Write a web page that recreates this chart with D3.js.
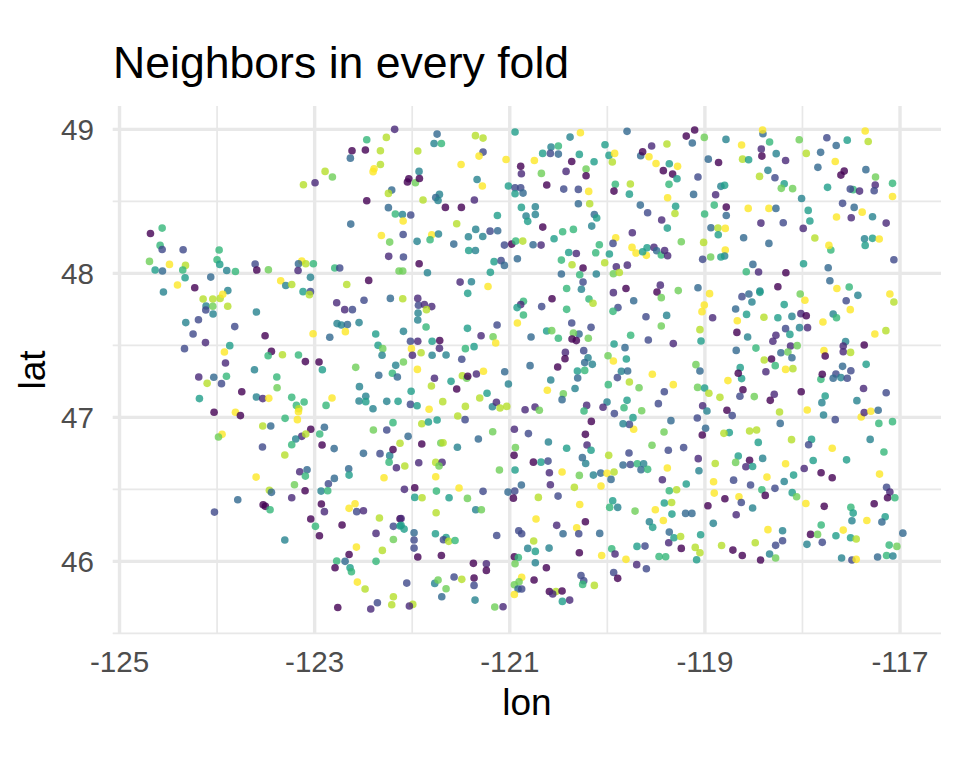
<!DOCTYPE html>
<html>
<head>
<meta charset="utf-8">
<script src="https://cdn.jsdelivr.net/npm/d3@7"></script>
<style>
  html, body { margin: 0; background: #fff; }
  svg { display: block; }
  text { font-family: "Liberation Sans", Arial, sans-serif; }
</style>
</head>
<body>
<svg width="960" height="768"></svg>
<script>
// each row: lon, lat, fold (0-9)
const pointsNW = [[-122.18,49,1],[-122.265,48.944,8],[-122.466,48.928,6],[-122.617,48.851,0],[-122.48,48.856,0],[-122.326,48.851,8],[-122.634,48.8,3],[-122.326,48.756,8],[-122.391,48.726,9],[-122.401,48.706,9],[-122.893,48.708,8],[-122.818,48.669,7],[-123.115,48.615,8],[-122.996,48.629,1],[-122.21,48.578,3],[-122.244,48.555,8],[-122.466,48.504,0],[-122.244,48.456,3],[-122.173,48.412,6],[-122.63,48.342,3],[-122.316,48.263,9],[-122.231,48.217,7],[-122.241,48.118,1],[-122.135,48.016,7],[-124.563,48.314,6],[-124.683,48.277,0],[-124.584,48.194,6],[-124.563,48.166,2],[-124.348,48.164,2],[-124.693,48.083,7],[-124.488,48.062,9],[-124.324,48.055,8],[-124.635,48.023,5],[-124.56,48.016,3],[-124.352,48.023,6],[-124.328,47.969,5],[-124.406,47.919,9],[-124.229,47.9,0],[-124.55,47.87,4],[-123.979,48.162,6],[-124,48.094,6],[-123.973,48.062,5],[-124.065,47.974,3],[-123.901,48.02,4],[-123.812,48.013,6],[-123.89,47.88,4],[-123.61,48.064,2],[-123.593,48.023,0],[-123.474,48.025,7],[-123.132,48.085,9],[-123.166,48.067,3],[-123.091,48.067,8],[-123.013,48.067,6],[-123.17,48.02,1],[-123.043,47.972,4],[-123.348,47.949,9],[-123.296,47.916,4],[-123.235,47.923,8],[-123.119,47.873,5],[-123.043,47.873,2],[-122.794,48.037,6],[-122.743,48.037,2],[-122.671,47.923,8],[-122.446,47.951,0],[-123.054,47.852,8]];
const pointsW = [[-124.143,47.822,8],[-124.044,47.822,8],[-123.969,47.826,8],[-123.942,47.854,9],[-124.113,47.773,4],[-124.044,47.771,7],[-123.891,47.771,8],[-124.116,47.745,2],[-124.041,47.718,4],[-123.597,47.732,4],[-124.321,47.658,4],[-124.191,47.678,2],[-123.819,47.63,2],[-124.246,47.579,2],[-124.119,47.519,1],[-124.334,47.477,2],[-123.508,47.567,0],[-123.87,47.498,5],[-123.925,47.454,9],[-123.443,47.458,0],[-123.477,47.428,6],[-123.33,47.435,8],[-123.166,47.433,6],[-123.914,47.377,1],[-123.095,47.387,0],[-122.955,47.384,0],[-122.921,47.331,5],[-123.617,47.331,4],[-123.388,47.28,6],[-124.188,47.28,1],[-124.034,47.278,3],[-123.904,47.285,6],[-124.102,47.236,8],[-123.955,47.234,2],[-123.385,47.206,7],[-123.747,47.178,0],[-124.181,47.13,5],[-123.597,47.141,4],[-123.532,47.13,1],[-123.47,47.132,9],[-123.235,47.139,6],[-123.187,47.083,6],[-123.108,47.107,6],[-123.163,47.06,8],[-123.166,47.039,9],[-123.177,46.984,9],[-123.303,46.993,6],[-122.822,47.134,9],[-122.883,47.083,6],[-122.579,47.347,7],[-122.774,47.796,1],[-122.692,47.748,1],[-122.613,47.748,2],[-122.494,47.813,2],[-122.224,47.826,3],[-122.77,47.651,4],[-122.726,47.641,4],[-122.664,47.644,3],[-122.545,47.658,4],[-122.685,47.595,9],[-122.845,47.556,3],[-123.016,47.581,9],[-122.374,47.579,5],[-122.35,47.5,5],[-122.302,47.477,7],[-122.309,47.431,4],[-122.169,47.361,4],[-122.203,47.306,6],[-122.152,47.28,3],[-122.343,47.292,3],[-122.541,47.213,4],[-122.476,47.146,4],[-122.545,47.113,4],[-122.476,47.109,5],[-122.261,47.111,4],[-122.402,47.06,4],[-122.145,47.111,5],[-124.031,47.035,0],[-123.812,47.035,9],[-123.761,47.012,0],[-123.532,46.94,8],[-123.45,46.94,3],[-122.197,46.963,6],[-122.398,46.912,7],[-122.261,46.912,2],[-122.9,46.931,3],[-123.04,46.917,0],[-123.132,46.868,1],[-123.091,46.884,8],[-122.948,46.884,6],[-123.194,46.85,4],[-123.235,46.81,6],[-122.924,46.808,0],[-122.8,46.783,3],[-123.949,46.882,9],[-123.986,46.864,7],[-123.535,46.794,2],[-123.306,46.739,8],[-122.5,46.75,3],[-122.33,46.748,2],[-122.231,46.734,4],[-122.197,46.776,0],[-122.125,46.82,8]];
const pointsSW = [[-123.153,46.622,1],[-123.078,46.636,3],[-123.095,46.592,6],[-122.651,46.643,3],[-122.647,46.599,5],[-122.798,46.576,3],[-122.859,46.539,2],[-122.237,46.689,6],[-122.162,46.65,1],[-123.6,46.585,9],[-123.207,46.532,7],[-123.464,46.493,8],[-123.443,46.479,3],[-123.098,46.49,0],[-122.934,46.488,4],[-122.866,46.49,6],[-123.235,46.442,1],[-123.788,46.428,3],[-124.027,46.342,2],[-123.528,46.393,0],[-123.505,46.382,0],[-123.457,46.358,6],[-122.931,46.398,0],[-122.9,46.345,1],[-122.586,46.4,9],[-122.647,46.368,9],[-122.569,46.345,2],[-122.5,46.351,1],[-122.289,46.581,9],[-123.04,46.294,0],[-122.992,46.243,6],[-122.719,46.252,0],[-122.951,46.178,0],[-123.306,46.148,4],[-122.336,46.301,8],[-122.125,46.296,0],[-122.193,46.243,2],[-122.125,46.245,5],[-122.371,46.194,1],[-122.193,46.152,7],[-122.572,46.099,9],[-122.306,46.076,8],[-122.647,46.048,0],[-122.774,46.002,6],[-122.688,46,3],[-122.371,46,6],[-122.791,45.956,0],[-122.637,45.956,5],[-122.623,45.928,6],[-122.562,45.856,9],[-122.483,45.808,8],[-122.193,45.754,8],[-122.21,45.699,8],[-122.357,45.713,2],[-122.425,45.669,1],[-122.763,45.68,0]];
const pointsN = [[-121.745,48.967,3],[-121.776,48.902,4],[-121.701,48.902,6],[-121.352,48.956,8],[-121.274,48.939,8],[-121.943,48.849,8],[-121.274,48.842,2],[-121.315,48.814,9],[-121.499,48.756,9],[-121.038,48.791,9],[-120.946,48.981,5],[-120.382,48.946,4],[-120.276,48.976,9],[-119.798,48.986,3],[-120.577,48.877,4],[-120.502,48.884,6],[-120.663,48.833,5],[-120.584,48.833,2],[-120.502,48.828,3],[-120.287,48.826,5],[-120.748,48.784,9],[-120.365,48.777,0],[-120.136,48.775,5],[-120.024,48.893,5],[-119.983,48.819,5],[-119.925,48.833,9],[-119.949,48.773,8],[-119.658,48.817,3],[-119.638,48.844,0],[-119.546,48.884,1],[-119.573,48.81,9],[-119.501,48.763,9],[-119.389,48.898,8],[-119.365,48.761,5],[-119.426,48.713,0],[-120.888,48.743,0],[-120.881,48.692,1],[-120.676,48.694,7],[-120.423,48.708,1],[-120.218,48.724,7],[-120.218,48.678,0],[-121.93,48.708,4],[-122.035,48.657,0],[-122.049,48.634,0],[-121.967,48.629,7],[-121.926,48.659,0],[-121.335,48.652,4],[-121.281,48.606,9],[-121.014,48.606,5],[-120.946,48.594,2],[-120.888,48.594,2],[-120.946,48.553,5],[-120.864,48.557,3],[-120.621,48.613,0],[-120.447,48.585,2],[-120.297,48.583,2],[-120.191,48.569,9],[-119.918,48.618,6],[-119.764,48.62,8],[-119.932,48.571,0],[-119.774,48.55,5],[-119.368,48.618,6],[-119.382,48.525,9],[-121.721,48.548,4],[-121.759,48.527,3],[-121.735,48.506,4],[-121.889,48.509,8],[-121.363,48.509,1],[-121.66,48.458,0],[-121.496,48.458,0],[-120.297,48.483,3],[-120.181,48.483,8],[-119.662,48.474,3],[-119.587,48.421,2],[-119.443,48.37,1],[-120.881,48.458,5],[-120.738,48.462,4],[-120.738,48.409,4],[-120.833,48.398,4],[-120.816,48.361,5],[-121.127,48.402,5],[-122.1,48.409,4],[-122.015,48.405,2],[-122.093,48.363,9],[-121.544,48.344,8],[-122.093,48.27,2],[-121.8,48.268,9],[-121.731,48.273,4],[-121.95,48.222,4],[-121.817,48.233,6],[-121.349,48.305,4],[-121.424,48.254,4],[-121.277,48.256,4],[-121.202,48.293,2],[-121.124,48.296,3],[-121.574,48.203,3],[-121.055,48.196,2],[-120.98,48.203,0],[-120.939,48.224,6],[-120.867,48.224,8],[-120.761,48.199,3],[-120.679,48.196,1],[-120.662,48.321,0],[-120.458,48.289,6],[-120.348,48.305,6],[-120.546,48.24,5],[-120.133,48.409,3],[-120.109,48.384,5],[-120.16,48.328,4],[-119.914,48.247,9],[-119.744,48.282,1],[-119.942,48.208,2],[-120.082,48.199,6],[-119.385,48.314,5],[-119.747,48.18,9],[-119.706,48.141,9],[-119.6,48.125,9],[-119.638,48.15,5],[-119.593,48.178,5],[-119.522,48.18,1],[-119.494,48.157,3],[-119.447,48.127,6],[-119.413,48.159,1],[-119.382,48.122,1],[-122.09,48.113,2],[-122.097,48.016,7],[-121.929,48.067,0],[-121.844,48.004,4],[-121.421,48.159,5],[-121.352,48.159,4],[-121.161,48.081,5],[-121.089,48.088,2],[-121.055,48.055,3],[-120.922,48.101,3],[-121.199,48.007,5],[-121.509,47.939,1],[-121.393,47.942,4],[-121.223,47.909,9],[-120.396,48.145,5],[-120.318,48.138,1],[-120.471,48.092,6],[-120.119,48.143,6],[-119.979,48.134,5],[-120.362,48.06,8],[-120.249,48.037,0],[-120.027,48.074,8],[-119.908,48.046,1],[-119.795,48.057,1],[-120.471,47.995,3],[-120.283,47.99,6],[-120.113,47.995,4],[-119.938,47.997,7],[-119.877,48.006,8],[-120.249,47.939,2],[-120.417,47.895,6],[-119.809,47.895,0],[-119.457,47.918,1]];
const pointsC = [[-122.097,47.824,8],[-121.943,47.826,1],[-121.936,47.778,2],[-121.875,47.783,1],[-121.8,47.769,1],[-121.854,47.748,8],[-121.94,47.725,4],[-121.943,47.676,4],[-122.09,47.597,4],[-121.858,47.627,6],[-121.431,47.861,5],[-121.434,47.618,5],[-121.13,47.641,2],[-121.294,47.567,1],[-121.171,47.56,7],[-121.144,47.516,9],[-122.018,47.528,2],[-121.943,47.528,1],[-121.796,47.528,5],[-121.718,47.533,0],[-121.721,47.479,1],[-122.008,47.477,9],[-121.909,47.449,8],[-121.998,47.431,1],[-121.796,47.431,4],[-121.653,47.433,4],[-121.455,47.477,6],[-121.366,47.491,5],[-121.492,47.403,2],[-122.09,47.384,7],[-121.947,47.333,9],[-121.772,47.271,1],[-121.803,47.218,8],[-121.602,47.25,5],[-121.544,47.197,0],[-121.486,47.289,8],[-121.441,47.271,7],[-121.431,47.285,0],[-121.342,47.301,1],[-121.27,47.32,9],[-121.052,47.317,3],[-121.014,47.232,4],[-122.011,47.181,5],[-122.018,47.09,2],[-121.95,47.081,5],[-121.827,47.056,9],[-121.687,47.109,8],[-121.455,47.076,8],[-121.308,47.134,8],[-121.233,47.167,5],[-121.178,47.074,4],[-121.137,47.104,1],[-121.1,47.065,8],[-121.031,47.076,8],[-121.533,47.009,8],[-121.458,46.984,2],[-121.902,46.956,8],[-121.834,46.968,5],[-121.745,46.982,5],[-122.042,46.868,3],[-121.902,46.815,0],[-121.707,46.822,7],[-121.684,46.824,8],[-121.537,46.792,4],[-121.322,46.85,3],[-121.175,46.9,7],[-120.953,46.917,1],[-120.809,46.887,2],[-120.604,46.829,4],[-120.942,46.79,7],[-120.956,46.736,0],[-120.417,46.785,5],[-120.208,46.808,1],[-120.167,46.771,5],[-120.256,46.72,3],[-119.986,46.736,8],[-119.778,46.752,2],[-119.542,46.806,7],[-119.375,46.771,2],[-119.419,46.898,7],[-120.225,46.882,0],[-120.164,46.972,0],[-119.73,46.917,9],[-119.774,46.951,2],[-119.839,46.956,4],[-119.737,46.998,5],[-119.928,47.026,2],[-119.829,47.067,6],[-119.798,47.118,5],[-119.648,47.046,7],[-119.477,47.095,2],[-119.416,47.178,2],[-119.675,47.206,7],[-119.774,47.245,8],[-119.99,47.227,6],[-119.539,47.299,9],[-119.897,47.276,2],[-119.856,47.32,4],[-119.792,47.322,3],[-119.938,47.391,9],[-119.993,47.428,7],[-119.805,47.405,5],[-119.819,47.484,3],[-119.931,47.509,5],[-119.58,47.537,2],[-119.761,47.57,6],[-119.447,47.634,7],[-119.604,47.699,2],[-119.392,47.708,4],[-119.73,47.81,3],[-119.891,47.762,2],[-119.942,47.736,6],[-119.938,47.866,1],[-119.491,47.87,0],[-119.447,47.831,7],[-120.188,47.822,6],[-120.147,47.792,8],[-120.266,47.889,4],[-120.417,47.75,6],[-120.567,47.824,0],[-120.673,47.769,2],[-120.86,47.806,6],[-120.888,47.783,1],[-120.925,47.762,5],[-120.86,47.711,6],[-120.922,47.655,9],[-120.365,47.655,2],[-120.167,47.625,2],[-120.29,47.579,3],[-120.348,47.586,7],[-120.622,47.6,5],[-120.57,47.602,7],[-120.782,47.558,3],[-120.502,47.549,6],[-120.195,47.549,7],[-120.362,47.544,0],[-120.318,47.533,0],[-120.43,47.451,1],[-120.434,47.407,0],[-120.242,47.463,2],[-120.198,47.414,4],[-120.232,47.38,3],[-120.154,47.368,4],[-120.792,47.359,3],[-120.509,47.35,0],[-120.307,47.322,5],[-120.232,47.326,6],[-120.304,47.273,3],[-120.58,47.259,4],[-120.615,47.188,9],[-120.451,47.164,7],[-120.331,47.2,4],[-120.464,47.123,3],[-120.003,47.107,4],[-120.044,47.07,1],[-120.212,47.083,1],[-120.239,47.044,6],[-120.741,47.072,1],[-120.843,47.053,1],[-120.697,47.049,7]];
const pointsNE = [[-119.105,48.995,0],[-119.191,48.953,0],[-119.006,48.944,7],[-119.129,48.905,3],[-118.784,48.93,4],[-118.624,48.891,9],[-118.405,48.969,3],[-118.409,48.995,9],[-118.337,48.912,6],[-118.422,48.863,1],[-118.416,48.814,0],[-118.269,48.831,4],[-118.173,48.784,1],[-118.614,48.793,8],[-118.552,48.789,5],[-118.965,48.793,3],[-118.86,48.77,0],[-119.28,48.743,9],[-119.331,48.689,0],[-119.286,48.657,5],[-119.071,48.669,2],[-118.354,48.715,4],[-118.44,48.673,8],[-118.282,48.664,2],[-118.187,48.622,5],[-118.217,48.59,7],[-118.101,48.588,7],[-118.836,48.604,4],[-118.798,48.611,5],[-118.89,48.546,1],[-119.116,48.548,3],[-118.033,48.928,7],[-117.961,48.833,8],[-117.75,48.942,2],[-117.654,48.888,3],[-117.541,48.925,5],[-117.357,48.988,9],[-117.326,48.916,8],[-117.814,48.84,3],[-117.664,48.777,9],[-117.842,48.736,3],[-117.572,48.71,0],[-117.606,48.682,0],[-117.35,48.72,3],[-117.251,48.669,7],[-117.254,48.613,1],[-117.077,48.625,6],[-117.743,48.597,5],[-117.48,48.581,6],[-117.51,48.585,2],[-117.415,48.571,1],[-117.265,48.574,2],[-117.077,48.534,9],[-118.009,48.52,4],[-117.589,48.486,2],[-117.47,48.458,3],[-117.941,48.437,5],[-117.388,48.425,9],[-117.651,48.391,9],[-117.5,48.386,1],[-117.282,48.393,4],[-117.142,48.349,1],[-117.924,48.363,5],[-117.992,48.312,1],[-117.873,48.245,8],[-117.709,48.162,6],[-117.729,48.194,9],[-117.364,48.24,4],[-117.282,48.243,5],[-117.213,48.238,9],[-117.357,48.194,5],[-117.063,48.094,2],[-117.989,48.067,5],[-117.736,48.039,3],[-117.719,47.949,3],[-117.647,47.895,9],[-117.521,47.905,6],[-118.17,48.004,0],[-118.45,48.009,1],[-118.576,48.011,6],[-118.508,48.062,3],[-118.252,47.907,0],[-118.436,47.877,4],[-119.3,48.465,5],[-119.307,48.416,8],[-118.904,48.474,6],[-119.003,48.412,6],[-118.781,48.46,0],[-118.781,48.402,3],[-118.556,48.451,9],[-118.344,48.451,9],[-118.272,48.451,3],[-118.426,48.349,1],[-118.197,48.351,2],[-118.938,48.317,3],[-118.866,48.314,8],[-118.791,48.312,9],[-118.863,48.268,5],[-118.603,48.247,3],[-118.344,48.208,3],[-119.242,48.219,7],[-119.013,48.215,8],[-118.791,48.162,9],[-118.798,48.12,4],[-118.836,48.113,5],[-118.941,48.113,7],[-119.023,48.097,2],[-119.071,47.9,3],[-119.273,47.88,7]];
const pointsE = [[-118.952,47.859,9],[-118.62,47.838,2],[-118.549,47.857,3],[-118.436,47.868,5],[-118.518,47.801,4],[-119.006,47.78,9],[-119.03,47.734,9],[-118.187,47.783,5],[-118.023,47.857,7],[-117.975,47.813,9],[-118.685,47.752,3],[-118.921,47.692,1],[-118.573,47.715,5],[-118.395,47.695,8],[-118.252,47.692,5],[-118.108,47.701,4],[-118.016,47.72,1],[-117.961,47.706,0],[-118.668,47.671,9],[-119.051,47.609,8],[-118.672,47.59,0],[-119.04,47.53,5],[-118.562,47.558,4],[-118.173,47.616,2],[-118.03,47.623,4],[-117.948,47.623,1],[-118.129,47.576,5],[-118.272,47.57,1],[-118.303,47.528,1],[-119.324,47.512,1],[-117.79,47.662,9],[-117.685,47.718,4],[-117.651,47.692,6],[-117.552,47.81,2],[-117.432,47.847,4],[-117.51,47.748,9],[-117.104,47.857,9],[-117.063,47.801,8],[-117.258,47.579,9],[-117.145,47.602,8],[-117.367,47.502,0],[-117.558,47.526,4],[-117.582,47.495,1],[-117.582,47.456,1],[-117.507,47.451,8],[-117.78,47.463,9],[-117.767,47.426,0],[-117.347,47.368,5],[-117.589,47.354,3],[-117.504,47.324,2],[-117.657,47.301,2],[-117.685,47.271,3],[-117.606,47.276,4],[-117.541,47.271,2],[-117.811,47.264,6],[-117.797,47.299,0],[-117.374,47.2,1],[-117.142,47.171,2],[-118.477,47.481,6],[-118.679,47.465,3],[-118.122,47.495,1],[-118.054,47.498,7],[-118.221,47.449,3],[-118.149,47.454,7],[-118.108,47.414,3],[-118.392,47.398,8],[-118.317,47.405,0],[-118.279,47.359,6],[-118.173,47.333,9],[-118.098,47.338,8],[-118.375,47.317,1],[-119.092,47.366,7],[-119.051,47.322,3],[-118.638,47.345,5],[-118.624,47.269,5],[-118.658,47.306,0],[-118.764,47.255,9],[-119.324,47.227,9],[-119.075,47.208,7],[-119.003,47.204,5],[-118.959,47.167,8],[-118.846,47.139,8],[-118.61,47.192,0],[-118.641,47.146,2],[-118.494,47.144,7],[-118.289,47.16,1],[-118.33,47.118,0],[-118.013,47.178,0],[-117.767,47.148,5],[-117.801,47.102,4],[-117.442,47.116,4],[-119.023,47.081,1],[-118.979,47.044,4],[-118.774,47.049,0],[-118.72,47.012,2],[-119.078,46.995,2],[-119.348,46.977,3],[-118.235,47.037,8],[-117.951,47.051,9],[-118.228,46.958,3],[-117.784,47.016,4],[-117.664,46.984,2],[-117.398,47.002,9],[-117.367,47.033,1],[-117.299,47.042,9],[-117.224,47.049,3],[-117.217,46.958,6],[-117.077,46.97,6],[-118.993,46.924,3],[-119.027,46.877,0],[-118.75,46.894,5],[-118.805,46.889,8],[-118.542,46.905,8],[-118.47,46.912,8],[-118.453,46.826,5],[-118.112,46.845,8],[-117.907,46.847,5],[-117.937,46.81,2],[-117.695,46.785,9],[-117.306,46.847,4],[-117.165,46.759,6],[-119.218,46.79,2],[-119.068,46.713,1],[-118.658,46.732,5],[-118.542,46.702,0],[-118.408,46.715,4],[-117.89,46.7,5],[-117.548,46.705,5]];
const pointsS = [[-122.076,46.662,8],[-121.933,46.685,1],[-121.759,46.687,8],[-121.694,46.687,1],[-121.725,46.662,7],[-121.759,46.588,9],[-121.106,46.634,7],[-120.946,46.634,5],[-120.758,46.689,0],[-120.68,46.689,5],[-120.608,46.696,2],[-120.594,46.615,1],[-120.464,46.62,9],[-120.287,46.597,7],[-120.143,46.599,4],[-120.068,46.613,3],[-120.003,46.611,9],[-119.931,46.62,8],[-119.962,46.569,3],[-120.222,46.68,4],[-119.839,46.669,3],[-119.764,46.673,2],[-119.693,46.678,6],[-119.628,46.678,4],[-119.655,46.636,3],[-119.587,46.639,6],[-119.385,46.648,9],[-119.436,46.567,1],[-120.881,46.53,3],[-120.584,46.532,1],[-120.338,46.514,8],[-120.065,46.523,9],[-119.365,46.49,6],[-122.08,46.5,1],[-121.974,46.511,0],[-121.752,46.488,6],[-121.52,46.509,9],[-121.274,46.486,2],[-121.018,46.481,3],[-120.949,46.488,2],[-120.963,46.439,0],[-121.974,46.444,5],[-121.899,46.442,8],[-121.622,46.442,5],[-121.434,46.437,7],[-120.707,46.444,8],[-120.505,46.453,2],[-121.755,46.338,8],[-121.349,46.358,4],[-121.291,46.358,7],[-120.283,46.395,9],[-119.945,46.421,5],[-119.976,46.375,6],[-119.894,46.375,4],[-119.716,46.349,7],[-119.508,46.358,9],[-119.416,46.405,5],[-119.426,46.284,9],[-119.569,46.275,4],[-119.535,46.236,5],[-120.731,46.294,9],[-122.114,46.298,1],[-120.225,46.275,0],[-120.519,46.25,1],[-120.314,46.233,9],[-120.908,46.213,2],[-120.878,46.192,2],[-120.454,46.192,3],[-120.293,46.192,2],[-120.078,46.194,3],[-122.114,46.25,5],[-122.083,46.224,5],[-121.981,46.199,3],[-121.762,46.192,5],[-121.981,46.148,2],[-121.981,46.092,2],[-121.653,46.166,5],[-121.68,46.15,2],[-121.626,46.139,8],[-121.561,46.145,6],[-121.134,46.18,2],[-120.755,46.141,8],[-120.816,46.09,4],[-120.738,46.069,5],[-120.597,46.092,4],[-120.287,46.06,0],[-120.058,46.041,9],[-119.955,46.088,6],[-119.921,46.051,1],[-119.696,46.104,5],[-119.614,46.106,2],[-119.47,46.034,6],[-119.402,46.032,6],[-119.809,46.014,9],[-119.371,46.129,1],[-119.365,46.203,3],[-121.943,46.03,0],[-121.701,46.041,0],[-121.373,45.986,0],[-121.24,45.983,1],[-121.24,45.937,0],[-120.953,46.032,0],[-120.912,46.027,6],[-120.946,45.983,7],[-120.738,45.99,4],[-120.625,45.956,0],[-119.699,45.977,1],[-119.6,45.949,2],[-119.935,45.923,2],[-119.894,45.882,0],[-122.056,45.849,2],[-121.769,45.847,4],[-121.735,45.87,7],[-121.571,45.891,2],[-121.492,45.875,8],[-121.366,45.884,0],[-121.366,45.833,2],[-121.653,45.81,7],[-121.697,45.754,3],[-121.356,45.731,4],[-121.994,45.701,8],[-122.029,45.69,1],[-121.154,45.683,7],[-121.069,45.685,1],[-120.878,45.889,9],[-120.751,45.87,0],[-120.905,45.858,7],[-120.953,45.838,7],[-120.915,45.808,3],[-120.878,45.808,2],[-120.953,45.77,9],[-120.27,45.902,2],[-120.242,45.865,2],[-120.253,45.84,6],[-120.133,45.833,8],[-120.526,45.791,8],[-120.594,45.791,0],[-120.464,45.794,0],[-120.56,45.773,1],[-120.461,45.722,5],[-120.386,45.731,1]];
const pointsSE = [[-118.894,46.68,8],[-118.685,46.687,7],[-118.58,46.657,1],[-118.511,46.659,5],[-118.173,46.678,9],[-117.982,46.645,1],[-119.061,46.629,4],[-117.809,46.615,0],[-117.695,46.581,0],[-118.091,46.599,5],[-118.364,46.585,9],[-117.21,46.606,9],[-118.187,46.555,4],[-118.706,46.564,2],[-118.911,46.553,9],[-118.532,46.53,2],[-119.191,46.537,5],[-118.416,46.497,6],[-118.282,46.507,2],[-119.29,46.497,8],[-118.904,46.474,9],[-118.381,46.458,0],[-118.105,46.477,5],[-118.06,46.449,7],[-117.138,46.514,2],[-117.104,46.481,1],[-117.128,46.442,0],[-117.053,46.442,6],[-119.341,46.409,8],[-118.795,46.435,0],[-118.651,46.449,9],[-118.627,46.409,2],[-118.969,46.386,0],[-117.965,46.402,9],[-117.777,46.382,0],[-117.265,46.4,0],[-118.511,46.37,4],[-117.504,46.375,6],[-117.48,46.335,5],[-119.338,46.328,5],[-119.198,46.333,3],[-119.133,46.333,3],[-118.679,46.324,1],[-118.914,46.264,4],[-117.493,46.282,4],[-117.34,46.284,9],[-117.152,46.31,5],[-117.186,46.273,3],[-116.971,46.196,3],[-118.354,46.22,9],[-118.204,46.213,4],[-117.808,46.252,6],[-117.917,46.187,0],[-117.845,46.187,7],[-117.582,46.217,9],[-117.657,46.178,5],[-117.507,46.164,5],[-117.449,46.155,8],[-119.044,46.185,5],[-119.317,46.164,5],[-119.249,46.173,8],[-119.242,46.09,0],[-119.099,46.097,8],[-119.051,46.06,8],[-119.085,46.011,5],[-118.829,46.11,8],[-118.713,46.078,0],[-118.617,46.041,0],[-118.484,46.129,8],[-118.429,46.009,0],[-118.337,46.051,4],[-118.275,46.111,2],[-118.204,46.143,2],[-118.275,46.023,7],[-117.954,46.118,4],[-117.797,46.132,2],[-117.599,46.023,4],[-117.493,46.009,2],[-117.449,46.014,9],[-117.23,46.03,3],[-117.138,46.041,6],[-117.073,46.037,4],[-117.111,46.113,6],[-117.032,46.104,7]];

const xMajor = [-125, -123, -121, -119, -117]
const xMinor = [-124, -122, -120, -118]
const yMajor = [46, 47, 48, 49]
const yMinor = [45.5, 46.5, 47.5, 48.5]
const titleText = 'Neighbors in every fold'
const xLabel = 'lon'
const yLabel = 'lat'

const points = [].concat(pointsNW, pointsW, pointsSW, pointsN, pointsC, pointsNE, pointsE, pointsS, pointsSE)

const panel = {left: 112.7, right: 941, top: 106, bottom: 633.5}
const grey = '#e8e8e8'

const xScale = d3.scaleLinear().domain([-125.07, -116.58]).range([panel.left, panel.right])
const yScale = d3.scaleLinear().domain([45.499, 49.162]).range([panel.bottom, panel.top])
const color = d3.scaleSequential(d3.interpolateViridis).domain([0, 9])

const svg = d3.select('svg')

// grid is just axes with long ticks, minor first so major sits on top
const xMinorAxis = d3.axisBottom(xScale).tickValues(xMinor).tickFormat(() => '').tickSize(-(panel.bottom - panel.top)).offset(0)
const yMinorAxis = d3.axisLeft(yScale).tickValues(yMinor).tickFormat(() => '').tickSize(-(panel.right - panel.left)).offset(0)
// String() keeps the plain hyphen, d3.format would give a long minus
const xAxis = d3.axisBottom(xScale).tickValues(xMajor).tickFormat(String).tickSize(-(panel.bottom - panel.top)).tickPadding(17.5).offset(0)
const yAxis = d3.axisLeft(yScale).tickValues(yMajor).tickFormat(String).tickSize(-(panel.right - panel.left)).tickPadding(18.7).offset(0)

function styleAxis(g, width) {
  g.select('.domain').remove()
  g.selectAll('.tick line').attr('stroke', grey).attr('stroke-width', width)
  g.selectAll('.tick text').attr('fill', '#4d4d4d').style('font-size', '29.6px')
    .style('font-family', '"Liberation Sans", Arial, sans-serif')
}

svg.append('g').attr('transform', `translate(0,${panel.bottom})`).call(xMinorAxis).call(styleAxis, 1.7)
svg.append('g').attr('transform', `translate(${panel.left},0)`).call(yMinorAxis).call(styleAxis, 1.7)
svg.append('g').attr('transform', `translate(0,${panel.bottom})`).call(xAxis).call(styleAxis, 3.4)
const yAxisG = svg.append('g').attr('transform', `translate(${panel.left},0)`).call(yAxis).call(styleAxis, 3.4)
yAxisG.selectAll('.tick text').attr('dy', '0.37em')

svg.append('g').selectAll('circle')
  .data(points)
  .enter()
  .append('circle')
  .attr('cx', d => xScale(d[0]))
  .attr('cy', d => yScale(d[1]))
  .attr('r', 3.8)
  .attr('fill', d => color(d[2]))
  .attr('fill-opacity', 0.8)

svg.append('text').attr('x', 113).attr('y', 78).attr('font-size', 44.6).attr('fill', '#000').text(titleText)
svg.append('text').attr('x', 527).attr('y', 715).attr('text-anchor', 'middle').attr('font-size', 37).attr('fill', '#000').text(xLabel)
svg.append('text').attr('transform', 'translate(45,370) rotate(-90)').attr('text-anchor', 'middle').attr('font-size', 37).attr('fill', '#000').text(yLabel)
</script>
</body>
</html>
